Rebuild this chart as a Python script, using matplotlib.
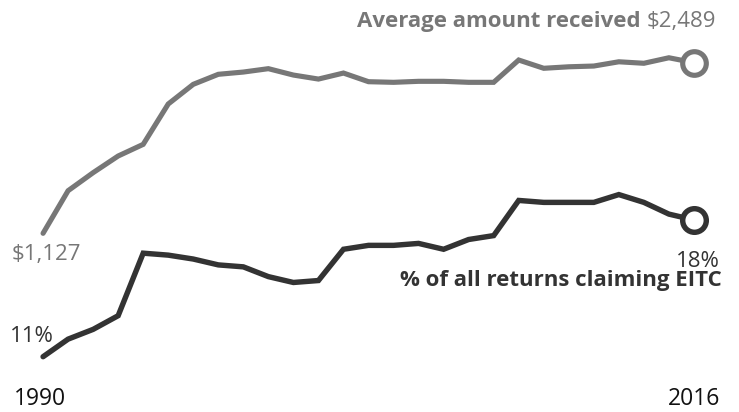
import matplotlib
matplotlib.use("Agg")
import matplotlib.pyplot as plt

# EITC: average amount received and share of returns claiming, 1990-2016
years = list(range(1990, 2017))
avg_amount = [1127, 1467, 1611, 1744, 1837, 2159, 2316, 2396, 2414, 2441,
              2390, 2358, 2406, 2337, 2332, 2340, 2340, 2332, 2332, 2510,
              2444, 2456, 2462, 2496, 2484, 2528, 2489]
pct_claiming = [11.0, 11.9, 12.4, 13.1, 16.3, 16.2, 16.0, 15.7, 15.6, 15.1,
                14.8, 14.9, 16.5, 16.7, 16.7, 16.8, 16.5, 17.0, 17.2, 19.0,
                18.9, 18.9, 18.9, 19.3, 18.9, 18.3, 18.0]

GRAY = "#777777"
DARK = "#333333"
W, H = 739, 412

plt.rcParams["font.family"] = ["Open Sans", "DejaVu Sans"]

fig = plt.figure(figsize=(W / 100, H / 100), dpi=100)
ax = fig.add_axes([0, 0, 1, 1])
ax2 = ax.twinx()

ax.set_xlim(1988.28, 2017.8)
ax.set_ylim(-299, 2989)
ax2.set_ylim(8.17, 29.26)
for a in (ax, ax2):
    a.axis("off")

ax.plot(years, avg_amount, color=GRAY, lw=3.7, solid_capstyle="round",
        solid_joinstyle="miter")
ax.plot(years[-1], avg_amount[-1], "o", ms=17, mfc="white", mec=GRAY, mew=3.7)

ax2.plot(years, pct_claiming, color=DARK, lw=3.9, solid_capstyle="round",
         solid_joinstyle="miter")
ax2.plot(years[-1], pct_claiming[-1], "o", ms=17, mfc="white", mec=DARK, mew=3.9)


def fx(px):
    return px / W


def fy(py):
    return 1 - py / H


fs = 16
t_amt = fig.text(fx(716), fy(27), f"${avg_amount[-1]:,}", ha="right",
                 va="baseline", color=GRAY, fontsize=fs)
ax.annotate("Average amount received", xy=(0, 0), xycoords=t_amt,
            xytext=(-4, 0), textcoords="offset points", ha="right", va="bottom",
            color=GRAY, fontsize=fs, fontweight="bold")

fig.text(fx(12), fy(260), f"${avg_amount[0]:,}", ha="left", va="baseline",
         color=GRAY, fontsize=fs)
fig.text(fx(10), fy(342), f"{pct_claiming[0]:.0f}%", ha="left", va="baseline",
         color=DARK, fontsize=fs)
fig.text(fx(720), fy(267), f"{pct_claiming[-1]:.0f}%", ha="right",
         va="baseline", color=DARK, fontsize=fs)
fig.text(fx(722), fy(286), "% of all returns claiming EITC", ha="right",
         va="baseline", color=DARK, fontsize=fs, fontweight="bold")

fig.text(fx(14), fy(405), str(years[0]), ha="left", va="baseline",
         color="#111111", fontsize=16.5)
fig.text(fx(720), fy(405), str(years[-1]), ha="right", va="baseline",
         color="#111111", fontsize=16.5)

fig.savefig("out.png", dpi=100, facecolor="white")
